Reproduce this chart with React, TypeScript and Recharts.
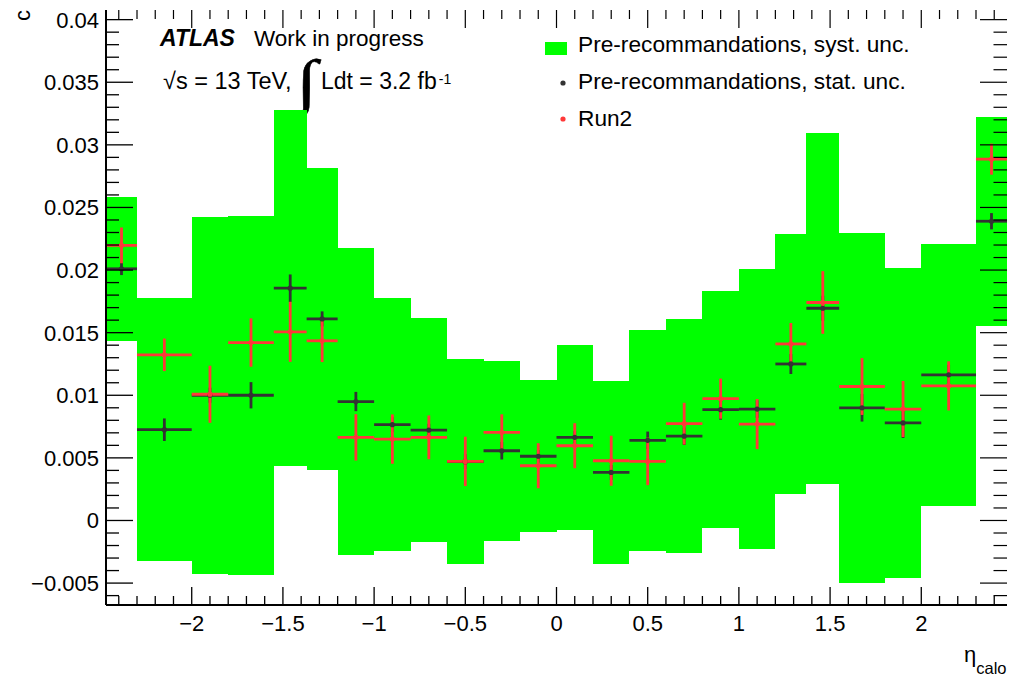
import { ComposedChart, Scatter, ErrorBar, XAxis, YAxis, ReferenceArea, Legend } from 'recharts';

const FONT = '"Liberation Sans", Arial, Helvetica, sans-serif';
const GREEN = '#00ff00';
const DARK = '#333333';
const RED = '#ff3838';

// eta_calo bin edges
const binEdges = [
  -2.47, -2.3, -2.0, -1.8, -1.55, -1.37, -1.2, -1.0, -0.8, -0.6, -0.4, -0.2, 0,
  0.2, 0.4, 0.6, 0.8, 1.0, 1.2, 1.37, 1.55, 1.8, 2.0, 2.3, 2.47,
];

// Pre-recommandations: central value, stat. and syst. uncertainties
const preValues = [
  0.0201, 0.00725, 0.01, 0.01, 0.01855, 0.0161, 0.0095, 0.00765, 0.00722, 0.0047, 0.00557, 0.00513,
  0.00664, 0.00384, 0.0064, 0.00673, 0.00885, 0.0089, 0.0125, 0.01695, 0.009, 0.00779, 0.01163, 0.0239,
];
const preStatErrors = [
  0.0005, 0.0009, 0.0006, 0.00105, 0.0011, 0.0006, 0.00077, 0.0006, 0.0005, 0.0006, 0.0007, 0.0005,
  0.0005, 0.0006, 0.0007, 0.0007, 0.0008, 0.0007, 0.0008, 0.001, 0.0011, 0.0012, 0.0008, 0.00065,
];
const preSystErrors = [
  0.00575, 0.01052, 0.01424, 0.01434, 0.01423, 0.01204, 0.01223, 0.01012, 0.00895, 0.00816, 0.00718, 0.00607,
  0.00738, 0.0073, 0.0088, 0.00933, 0.00948, 0.01121, 0.01039, 0.01403, 0.01398, 0.0124, 0.01047, 0.00835,
];

// Run2
const run2Values = [
  0.02197, 0.01323, 0.01008, 0.01421, 0.01507, 0.01435, 0.00664, 0.0065, 0.00664, 0.00472, 0.00704, 0.00437,
  0.00597, 0.00477, 0.00472, 0.00773, 0.00973, 0.0077, 0.0141, 0.01741, 0.0107, 0.0089, 0.01075, 0.02886,
];
const run2Errors = [
  0.00143, 0.0013, 0.00228, 0.00193, 0.0024, 0.0017, 0.00185, 0.00197, 0.00175, 0.00197, 0.00144, 0.0018,
  0.0018, 0.002, 0.0019, 0.00167, 0.0016, 0.002, 0.00167, 0.0025, 0.00227, 0.00224, 0.00196, 0.00124,
];

const X_RANGE = [-2.47, 2.47];
const Y_RANGE = [-0.00675, 0.04077];
const xTicks = Array.from({ length: 49 }, (_, i) => (i - 24) / 10);
const yTicks = Array.from({ length: 47 }, (_, i) => (i - 6) / 1000);

const W = 1022;
const H = 685;
const MARGIN = { top: 10, right: 15, bottom: 50, left: 0 };
const X_AXIS_H = 30;
const Y_AXIS_W = 106;
// plot frame, from the chart size, margins and axis sizes
const FRAME = {
  left: MARGIN.left + Y_AXIS_W,
  right: W - MARGIN.right,
  top: MARGIN.top,
  bottom: H - MARGIN.bottom - X_AXIS_H,
};
const xPix = (v: number) => FRAME.left + ((v - X_RANGE[0]) / (X_RANGE[1] - X_RANGE[0])) * (FRAME.right - FRAME.left);
const yPix = (v: number) => FRAME.bottom - ((v - Y_RANGE[0]) / (Y_RANGE[1] - Y_RANGE[0])) * (FRAME.bottom - FRAME.top);

const centers = binEdges.slice(0, -1).map((e, i) => (e + binEdges[i + 1]) / 2);
const halfWidths = binEdges.slice(0, -1).map((e, i) => (binEdges[i + 1] - e) / 2);

const statRows = centers.map((x, i) => ({ x, y: preValues[i], ex: halfWidths[i], ey: preStatErrors[i] }));
const run2Rows = centers.map((x, i) => ({ x, y: run2Values[i], ex: halfWidths[i], ey: run2Errors[i] }));

const isMajorX = (v: number) => Math.round(v * 10) % 5 === 0;
const isMajorY = (v: number) => Math.round(v * 1000) % 5 === 0;
const fmt = (v: number) => String(v).replace('-', '\u2212');

const topMarks = xTicks.map((x) => ({ x, y: Y_RANGE[1], major: isMajorX(x) }));
const rightMarks = yTicks.map((y) => ({ x: X_RANGE[1], y, major: isMajorY(y) }));

const isMajor = (p: any) => (p.payload ? p.payload.major : p.major);
const mark = (dx: number, dy: number) => (p: any) => {
  const k = isMajor(p) ? 1 : 0.5;
  return <path d={`M${p.cx},${p.cy}l${dx * k},${dy * k}`} stroke="#000" strokeWidth={1.2} fill="none" />;
};

const BottomLabel = (props: any) => {
  const v = props.payload.value;
  if (!isMajorX(v)) return <g />;
  return (
    <text x={props.x} y={props.y + 26} textAnchor="middle" fontSize={22} fontFamily={FONT} fill="#000">
      {fmt(Math.round(v * 10) / 10)}
    </text>
  );
};

const LeftLabel = (props: any) => {
  const v = props.payload.value;
  if (!isMajorY(v)) return <g />;
  return (
    <text x={props.x - 7} y={props.y + 8} textAnchor="end" fontSize={22} fontFamily={FONT} fill="#000">
      {fmt(Math.round(v * 1000) / 1000)}
    </text>
  );
};

const Dot = (color: string) => (props: any) => <circle cx={props.cx} cy={props.cy} r={2.6} fill={color} />;

const LegendBox = () => (
  <svg width={400} height={110} style={{ display: 'block' }}>
    <rect x={5} y={17} width={22} height={13} fill={GREEN} />
    <text x={38} y={27} fontSize={22.7} fontFamily={FONT} fill="#000">Pre-recommandations, syst. unc.</text>
    <circle cx={23} cy={58} r={2.6} fill={DARK} />
    <text x={38} y={64} fontSize={22.7} fontFamily={FONT} fill="#000">Pre-recommandations, stat. unc.</text>
    <circle cx={23} cy={94} r={2.6} fill={RED} />
    <text x={38} y={101} fontSize={22.7} fontFamily={FONT} fill="#000">Run2</text>
  </svg>
);

// bottom and left frame ticks, drawn in an overlay above the chart
const FrameTicks = () => (
  <svg width={W} height={H} style={{ position: 'absolute', left: 0, top: 0, pointerEvents: 'none' }}>
    {xTicks.map((x) => {
      const len = isMajorX(x) ? 18 : 9;
      return <rect key={`bt-${x}`} x={xPix(x) - 0.65} y={FRAME.bottom - len} width={1.3} height={len} fill="#000" />;
    })}
    {yTicks.map((y) => {
      const len = isMajorY(y) ? 27 : 13;
      return <rect key={`lt-${y}`} x={FRAME.left} y={yPix(y) - 0.65} width={len} height={1.3} fill="#000" />;
    })}
  </svg>
);

export default function App() {
  return (
    <div style={{ position: 'absolute', left: 0, top: 0, width: W, height: H, background: '#fff' }}>
      <ComposedChart width={W} height={H} margin={MARGIN}>
        {centers.map((c, i) => (
          <ReferenceArea
            key={`syst-${c}`}
            x1={binEdges[i]}
            x2={binEdges[i + 1]}
            y1={preValues[i] - preSystErrors[i]}
            y2={preValues[i] + preSystErrors[i]}
            fill={GREEN}
            fillOpacity={1}
            stroke="none"
            shapeRendering="crispEdges"
            ifOverflow="visible"
          />
        ))}
        <Scatter data={statRows} dataKey="y" name="stat" shape={Dot(DARK)} isAnimationActive={false}>
          <ErrorBar dataKey="ex" direction="x" width={0} stroke={DARK} strokeWidth={2.8} />
          <ErrorBar dataKey="ey" direction="y" width={0} stroke={DARK} strokeWidth={2.8} />
        </Scatter>
        <Scatter data={run2Rows} dataKey="y" name="Run2" shape={Dot(RED)} isAnimationActive={false}>
          <ErrorBar dataKey="ex" direction="x" width={0} stroke={RED} strokeWidth={2.8} />
          <ErrorBar dataKey="ey" direction="y" width={0} stroke={RED} strokeWidth={2.8} />
        </Scatter>
        <Scatter data={topMarks} dataKey="y" shape={mark(0, 18)} isAnimationActive={false} legendType="none" />
        <Scatter data={rightMarks} dataKey="y" shape={mark(-27, 0)} isAnimationActive={false} legendType="none" />
        <XAxis
          dataKey="x"
          type="number"
          domain={X_RANGE}
          allowDataOverflow
          ticks={xTicks}
          interval={0}
          height={X_AXIS_H}
          tickSize={0}
          tickMargin={0}
          tickLine={false}
          tick={BottomLabel}
          axisLine={{ stroke: '#000', strokeWidth: 2 }}
        />
        <XAxis
          xAxisId="top"
          orientation="top"
          type="number"
          domain={X_RANGE}
          allowDataOverflow
          height={0}
          tick={false}
          tickLine={false}
          axisLine={{ stroke: '#000', strokeWidth: 2 }}
        />
        <YAxis
          dataKey="y"
          type="number"
          domain={Y_RANGE}
          allowDataOverflow
          ticks={yTicks}
          interval={0}
          width={Y_AXIS_W}
          tickSize={0}
          tickMargin={0}
          tickLine={false}
          tick={LeftLabel}
          axisLine={{ stroke: '#000', strokeWidth: 2 }}
        />
        <YAxis
          yAxisId="right"
          orientation="right"
          type="number"
          domain={Y_RANGE}
          allowDataOverflow
          width={0}
          tick={false}
          tickLine={false}
          axisLine={{ stroke: '#000', strokeWidth: 2 }}
        />
        <Legend
          content={LegendBox}
          layout="horizontal"
          verticalAlign="middle"
          align="center"
          width={400}
          height={110}
          wrapperStyle={{ left: 540, top: 25, width: 400, height: 110 }}
        />
        <text transform="translate(29.5, 10) rotate(-90)" textAnchor="end" fontSize={22} fontFamily={FONT} fill="#000">
          c
        </text>
        <text x={964} y={662} fontSize={22} fontFamily={FONT} fill="#000">
          η<tspan fontSize={16.5} dy={12}>calo</tspan>
        </text>
        <text x={160} y={46} fontSize={23} fontFamily={FONT} fill="#000">
          <tspan fontWeight="bold" fontStyle="italic">ATLAS</tspan>
          <tspan x={254} fontSize={22.5}>Work in progress</tspan>
        </text>
        <text x={163} y={89} fontSize={23.5} fontFamily={FONT} fill="#000">
          √s = 13 TeV,
        </text>
        <text
          transform="translate(296, 103) scale(1.25, 1)"
          fontSize={62}
          fontFamily='"Liberation Serif", serif'
          fill="#000"
          stroke="#000"
          strokeWidth={0.4}
        >
          ∫
        </text>
        <text x={321} y={89} fontSize={23} fontFamily={FONT} fill="#000">
          Ldt = 3.2 fb<tspan fontSize={14} dx={2} dy={-5}>-1</tspan>
        </text>
      </ComposedChart>
      <FrameTicks />
    </div>
  );
}
